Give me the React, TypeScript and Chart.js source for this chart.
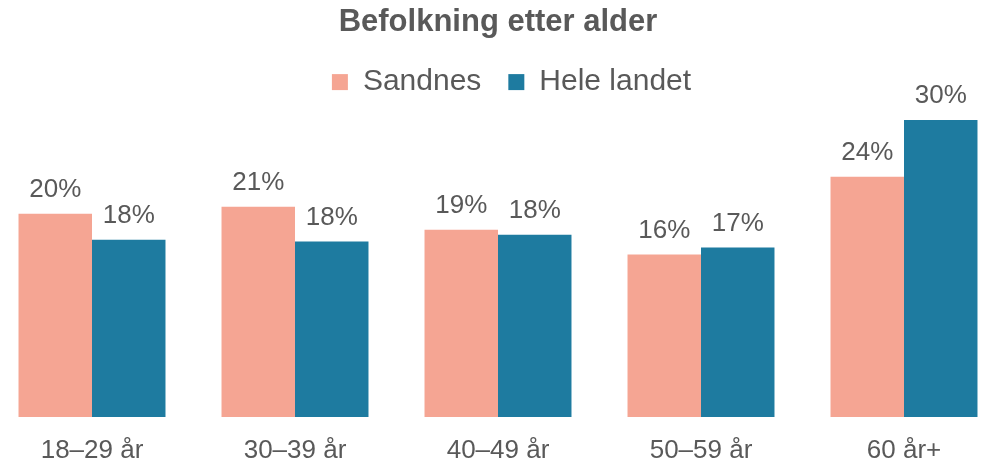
import { useEffect, useRef } from 'react';
import { Chart, registerables } from 'chart.js';

Chart.register(...registerables);

const FONT = '"Liberation Sans", Arial, Helvetica, sans-serif';
const TEXT = '#595959';

const title = 'Befolkning etter alder';
const categories = ['18–29 år', '30–39 år', '40–49 år', '50–59 år', '60 år+'];
const seriesNames = ['Sandnes', 'Hele landet'];
const sandnes = [20.4, 21.1, 18.8, 16.3, 24.1];
const heleLandet = [17.8, 17.6, 18.3, 17.0, 29.8];
const seriesColors = ['#F5A593', '#1E7BA0'];

const valueLabels = {
  id: 'valueLabels',
  afterDatasetsDraw(chart: any) {
    const ctx = chart.ctx;
    ctx.save();
    ctx.font = `26px ${FONT}`;
    ctx.fillStyle = TEXT;
    ctx.textAlign = 'center';
    ctx.textBaseline = 'alphabetic';
    chart.data.datasets.forEach((ds: any, di: number) => {
      const meta = chart.getDatasetMeta(di);
      meta.data.forEach((el: any, i: number) => {
        const v = ds.data[i] as number;
        ctx.fillText(`${Math.round(v)}%`, el.x, el.y - 17);
      });
    });
    ctx.restore();
  },
};

export default function App() {
  const ref = useRef<HTMLCanvasElement | null>(null);

  useEffect(() => {
    document.body.style.margin = '0';
    if (!ref.current) return;
    const chart = new Chart(ref.current, {
      type: 'bar',
      data: {
        labels: categories,
        datasets: [
          {
            label: seriesNames[0],
            data: sandnes,
            backgroundColor: seriesColors[0],
            borderWidth: 0,
            categoryPercentage: 0.724,
            barPercentage: 1.0,
            clip: false as any,
          },
          {
            label: seriesNames[1],
            data: heleLandet,
            backgroundColor: seriesColors[1],
            borderWidth: 0,
            categoryPercentage: 0.724,
            barPercentage: 1.0,
            clip: false as any,
          },
        ],
      },
      options: {
        animation: false,
        responsive: true,
        maintainAspectRatio: false,
        layout: { padding: { left: 92, right: 56, top: 0, bottom: -21 } },
        plugins: {
          title: {
            display: true,
            text: title,
            fullSize: false,
            color: TEXT,
            font: { family: FONT, size: 31, weight: 'bold', lineHeight: 1.1 },
            padding: { top: 5, bottom: 1 },
          },
          legend: {
            display: true,
            position: 'top',
            labels: {
              color: TEXT,
              font: { family: FONT, size: 30 },
              boxWidth: 16,
              boxHeight: 16,
              padding: 27,
            },
          },
          tooltip: { enabled: false },
        },
        scales: {
          x: {
            offset: false,
            grid: { display: false, drawTicks: false },
            border: { display: false },
            ticks: {
              color: TEXT,
              font: { family: FONT, size: 26, lineHeight: 1 },
              padding: 21,
              maxRotation: 0,
              autoSkip: false,
            },
          },
          y: {
            position: 'right',
            min: 0,
            max: 31.1,
            display: true,
            grid: { display: false, drawTicks: false },
            border: { display: false },
            ticks: { display: false },
            afterFit: (s: any) => {
              s.width = 27;
            },
          },
        },
      },
      plugins: [valueLabels],
    });
    return () => chart.destroy();
  }, []);

  return (
    <div style={{ width: 987, height: 464, position: 'relative' }}>
      <canvas ref={ref} />
    </div>
  );
}
